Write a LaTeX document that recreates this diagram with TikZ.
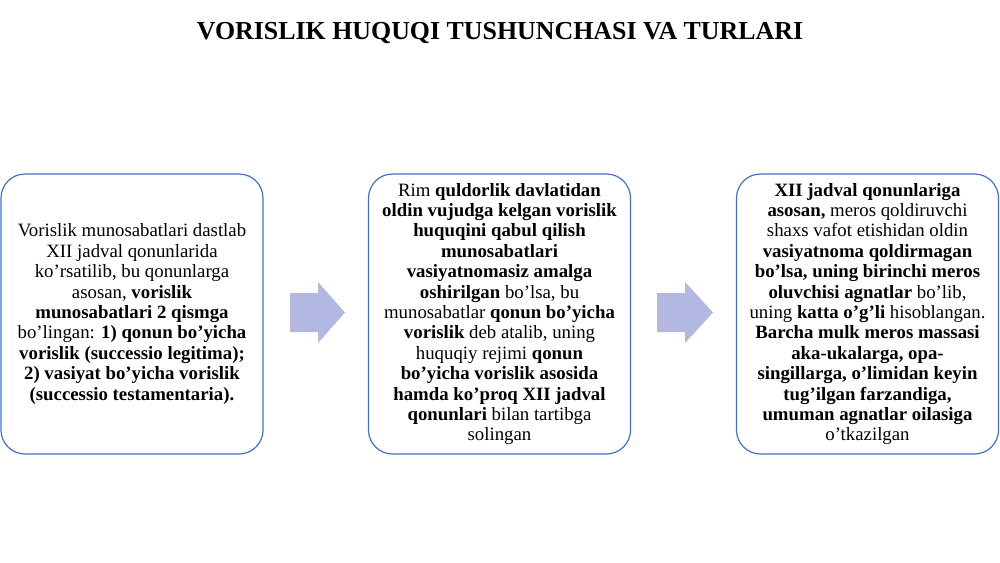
\documentclass[tikz,border=0pt]{standalone}
\usepackage{fontspec}
\setmainfont{Liberation Serif}
\definecolor{boxline}{RGB}{68,114,196}
\definecolor{arrowfill}{RGB}{178,184,226}
\begin{document}
\begin{tikzpicture}[x=1pt,y=-1pt,
  infobox/.style={draw=boxline, line width=1.2pt, rounded corners=24pt, fill=white,
    minimum width=262pt, minimum height=280pt, inner sep=0pt, align=center,
    font={\fontsize{18.8}{20.4}\selectfont}},
  blockarrow/.style={fill=arrowfill, draw=none}]
\useasboundingbox (0,0) rectangle (1000,562);
\node[anchor=base, font={\fontsize{25.9}{30}\selectfont\bfseries}] (title) at (500,39)
  {VORISLIK HUQUQI TUSHUNCHASI VA TURLARI};
\node[infobox] (b1) at (132,314) {Vorislik munosabatlari dastlab\\
XII jadval qonunlarida\\
ko’rsatilib, bu qonunlarga\\
asosan, \textbf{vorislik}\\
\textbf{munosabatlari 2 qismga}\\
bo’lingan: \textbf{1) qonun bo’yicha}\\
\textbf{vorislik (successio legitima);}\\
\textbf{2) vasiyat bo’yicha vorislik}\\
\textbf{(successio testamentaria).}};
\node[infobox] (b2) at (499.5,314) {Rim \textbf{quldorlik davlatidan}\\
\textbf{oldin vujudga kelgan vorislik}\\
\textbf{huquqini qabul qilish}\\
\textbf{munosabatlari}\\
\textbf{vasiyatnomasiz amalga}\\
\textbf{oshirilgan} bo’lsa, bu\\
munosabatlar \textbf{qonun bo’yicha}\\
\textbf{vorislik} deb atalib, uning\\
huquqiy rejimi \textbf{qonun}\\
\textbf{bo’yicha vorislik asosida}\\
\textbf{hamda ko’proq XII jadval}\\
\textbf{qonunlari} bilan tartibga\\
solingan};
\node[infobox] (b3) at (867.5,314) {\textbf{XII jadval qonunlariga}\\
\textbf{asosan,} meros qoldiruvchi\\
shaxs vafot etishidan oldin\\
\textbf{vasiyatnoma qoldirmagan}\\
\textbf{bo’lsa, uning birinchi meros}\\
\textbf{oluvchisi agnatlar} bo’lib,\\
uning \textbf{katta o’g’li} hisoblangan.\\
\textbf{Barcha mulk meros massasi}\\
\textbf{aka-ukalarga, opa-}\\
\textbf{singillarga, o’limidan keyin}\\
\textbf{tug’ilgan farzandiga,}\\
\textbf{umuman agnatlar oilasiga}\\
o’tkazilgan};
\fill[blockarrow] (290,293) -- (318,293) -- (318,282) -- (345,312.5) -- (318,343) -- (318,332) -- (290,332) -- cycle;
\fill[blockarrow] (657,293) -- (685,293) -- (685,282) -- (713,312.5) -- (685,343) -- (685,332) -- (657,332) -- cycle;
\end{tikzpicture}
\end{document}
